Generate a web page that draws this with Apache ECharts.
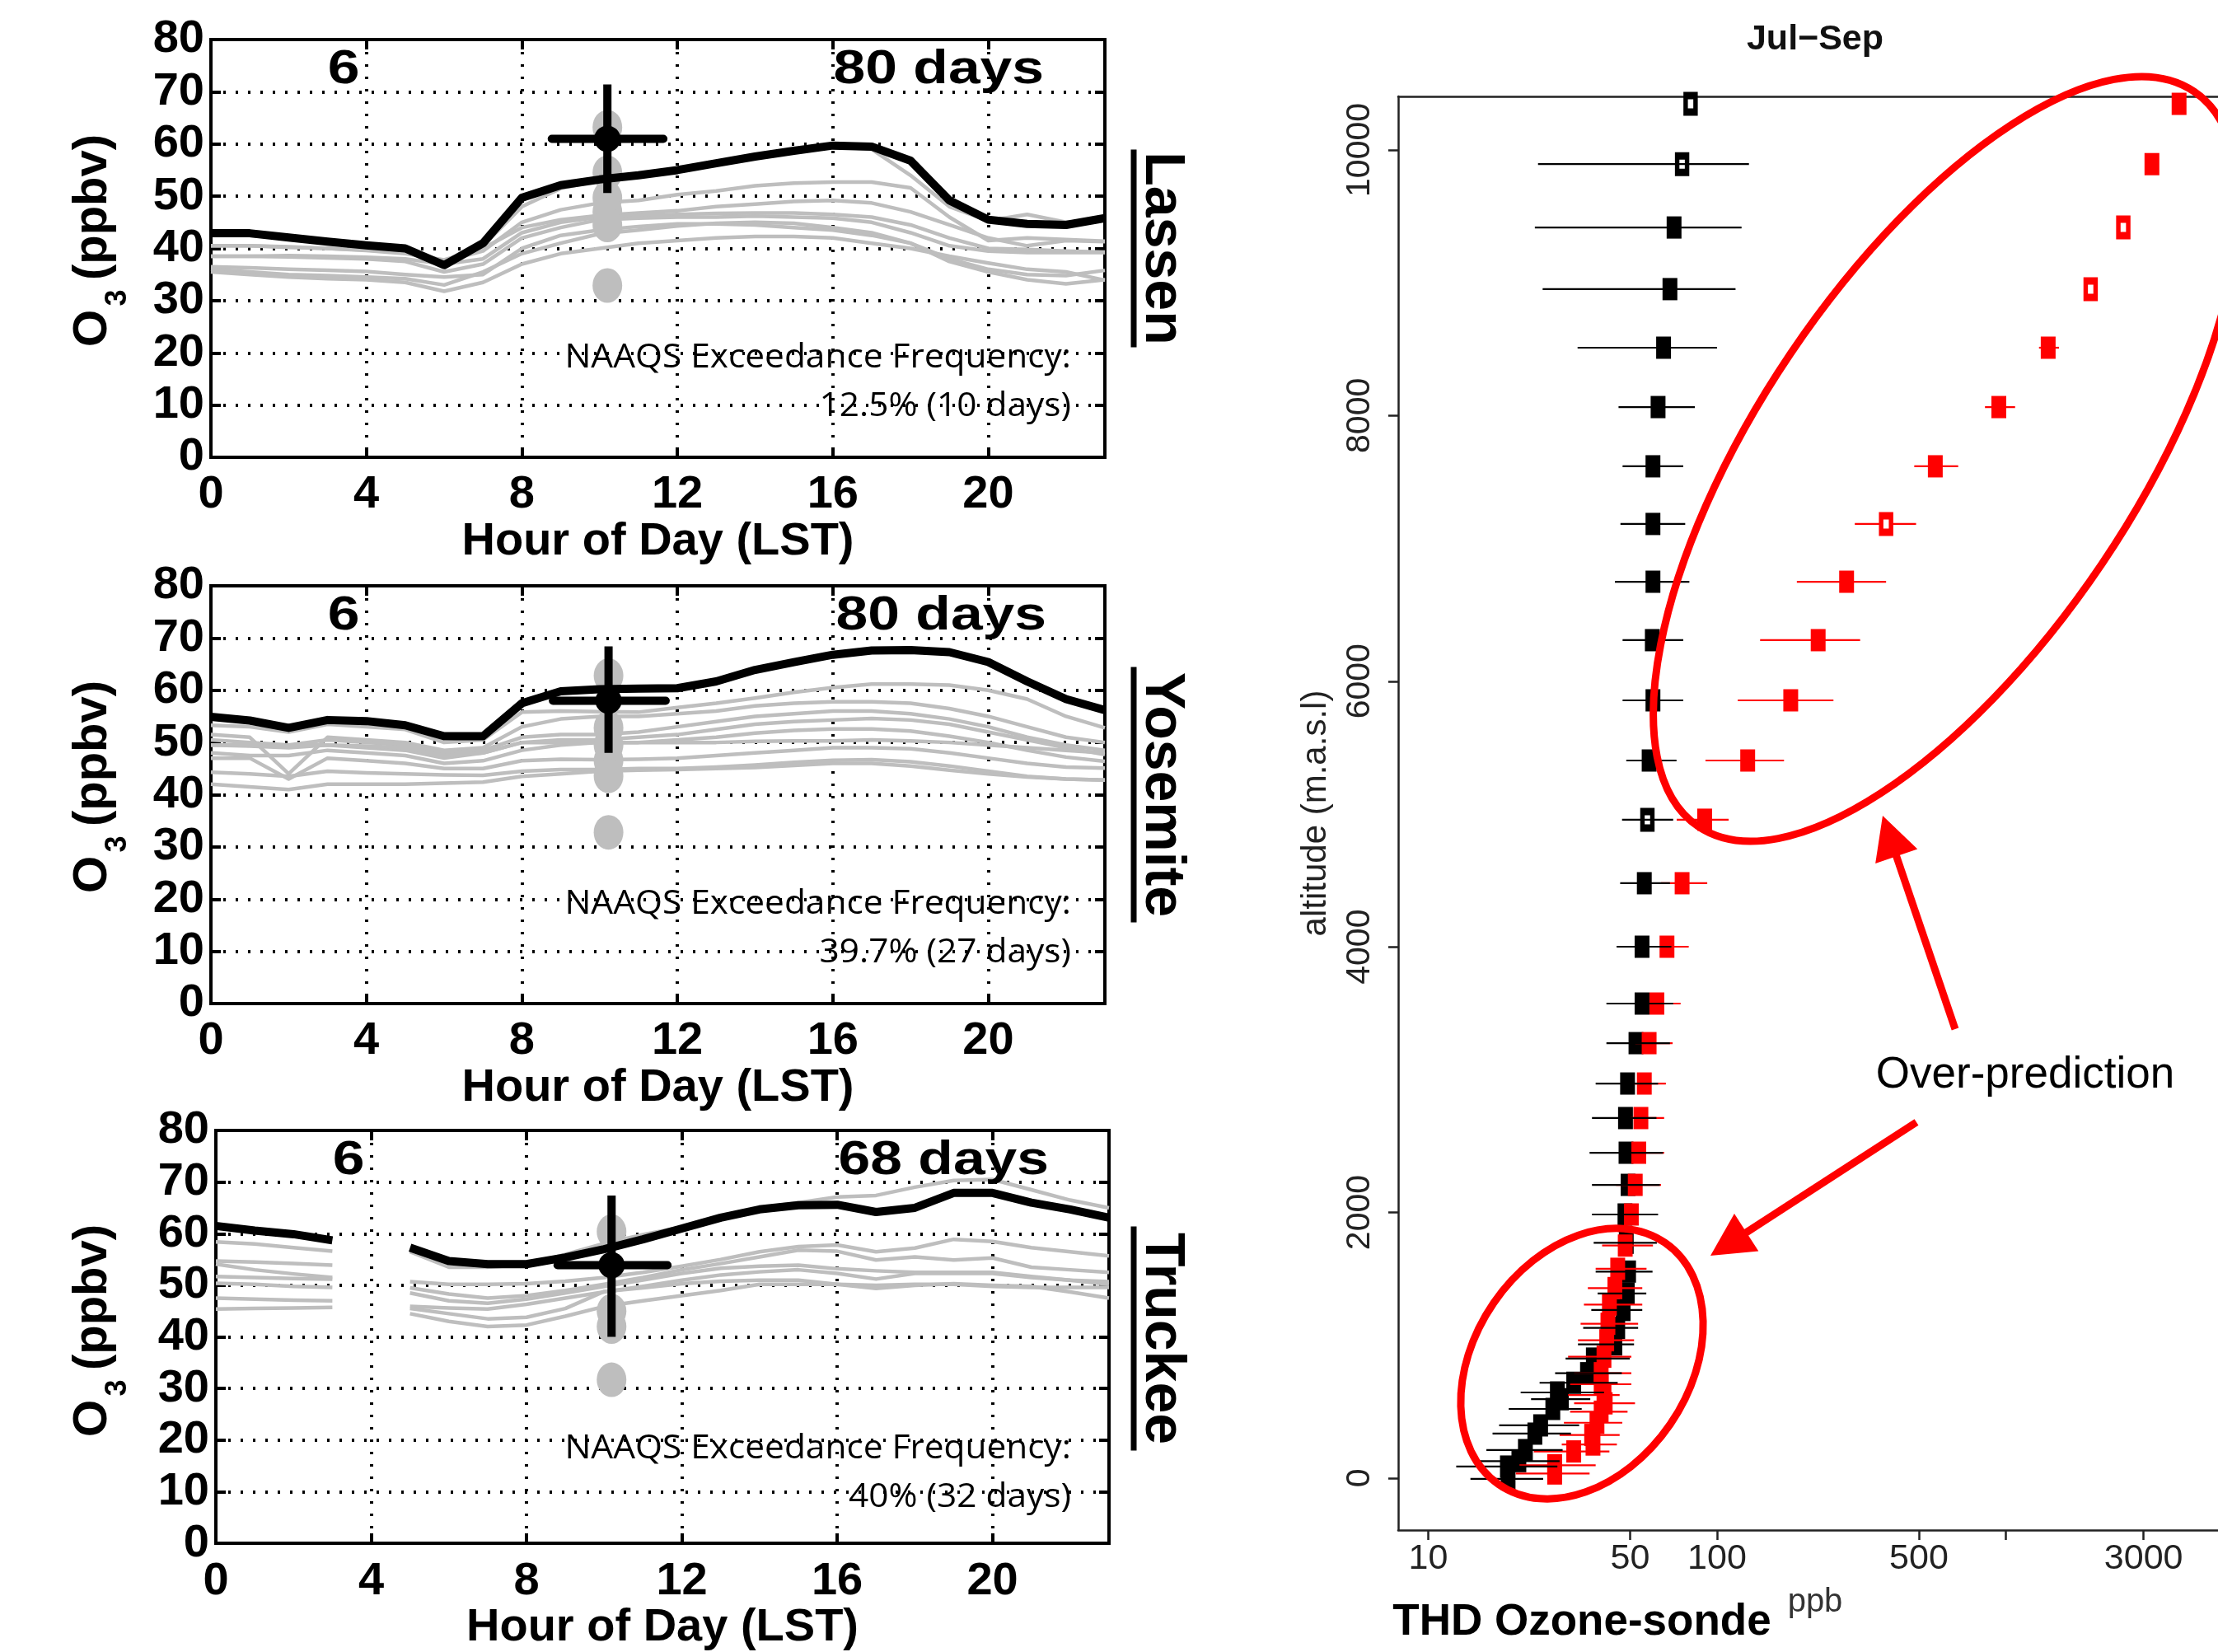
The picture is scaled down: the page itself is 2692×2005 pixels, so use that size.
<!DOCTYPE html>
<html><head><meta charset="utf-8">
<script src="https://cdn.jsdelivr.net/npm/echarts@6/dist/echarts.min.js"></script>
<style>html,body{margin:0;padding:0;background:#fff}#c{width:2692px;height:2005px}</style>
</head><body><div id="c"></div>
<script>
// ---------------- DATA ----------------
const hours = [0,1,2,3,4,5,6,7,8,9,10,11,12,13,14,15,16,17,18,19,20,21,22,23];

// Lassen
const lassenObs = [42.9,42.9,42.1,41.3,40.6,40.0,36.8,41.0,49.7,52.1,53.2,54.0,55.0,56.3,57.6,58.7,59.7,59.5,56.8,49.2,45.5,44.7,44.5,45.8];
const lassenGray = [
  [42.5,42.5,42,41.3,40.6,40,37,40.5,48,51.5,53,53.8,54.8,56,57.3,58.5,59.5,59,54,48,45.3,46.5,45,45.5],
  [40.5,40.5,40.3,40,39.7,39.2,37.5,39.5,45,47.4,48.7,49.2,50.3,51,52,52.5,52.7,52.7,51.6,46,41.5,42,41.7,41.4],
  [40.5,40.5,40.2,40,39.6,39,37.8,40,44,45.5,46.3,46.8,47.2,48,48.5,49,49.2,48.7,47,44.5,42,40.5,41.5,41.3],
  [38.5,38.5,38.6,38.5,38.3,38,37,38,43,45,46,46.3,46.5,46.7,46.8,46.8,46.5,46,44.5,42,40,39.8,39.5,39.3],
  [38.5,38.5,38.4,38.2,38,37.5,35.5,37,42,44,45.5,45.8,46,46,46.2,46,45.8,45,43,40.5,39.5,39.2,39.2,39.2],
  [36.5,36.3,36,35.8,35.6,35,34.5,35,40,42.5,43.5,44.2,44.7,44.7,44.5,44,43.5,42.5,41,38,36,35,34.8,35.8],
  [36,35.5,35,34.8,34.5,34.2,33,35.5,39,41,42.8,43.5,44.3,44.8,45,44.8,44,43,41,37.5,35.5,34,33.2,34],
  [35.5,35,34.5,34.2,34,33.5,31.8,33.5,37,39,40,41,41.5,42,42.3,42.3,42,41,40,38.5,37.2,36,35.5,33.9]
];
const lassenBlobs = [63.2,54.5,49.7,47.0,44.5,32.9];
const lassenCross = [10.2, 61.0, 8.77, 11.64, 50.6, 71.4]; // hour, value, hourLo, hourHi, valueLo, valueHi

// Yosemite
const yosemiteObs = [54.9,54.2,52.8,54.3,54.1,53.3,51.2,51.2,57.5,59.8,60.2,60.3,60.4,61.7,63.9,65.4,66.8,67.6,67.7,67.3,65.4,61.7,58.3,56.2];
const yosemiteGray = [
  [53.3,53,52,53.5,53,52.5,50,50.5,55.8,56,55.9,55.8,56.7,57.5,58.5,59.6,60.5,61.2,61.2,61,60,58.3,55,52.8],
  [51.5,51,44,51,50.5,50,48.5,49,53,54.5,55,55,55.5,56,57,57.5,57.8,57.8,57.5,56.5,55,53,51,50],
  [50.5,50,49.5,50.5,50,49.5,48,48.5,51,51.5,51.5,52,53,54,55,55.5,56,56,55.5,54.5,53,51,49.5,48.5],
  [49.5,49.3,49,49.5,49,48.5,47,48,50,50.5,50.5,51,51.5,52.5,53.5,54,54.3,54.6,54.3,53.5,52,50.5,49,47.7],
  [48,47.5,47.5,48.5,48,47.5,46,46.5,48.5,49.5,50,50,50.5,51,51.8,52.3,52.6,52.6,52.2,51.2,50,48.5,47.2,46.4],
  [49.5,49.5,49.5,49.5,49.3,49,47.5,48,50,50,50,50,50,50,50.2,50.3,50.3,50.5,50.3,50,49.5,49,48.5,48],
  [47,47,43,47,46.5,46,45,45,46.5,46.8,46.7,46.8,47,47.5,48,48.5,49,49,48.8,48,47,46,45.3,45.1],
  [44.3,44,43.5,44.5,44.2,44,43.8,43.7,44.5,44.8,44.8,45,45,45.3,45.7,46.2,46.6,46.7,46.3,45.5,44.5,43.5,43,42.8],
  [42,41.5,41,42,42,42,42.2,42.4,43.5,44,44.5,44.7,44.8,45,45.2,45.6,46,46,45.5,44.7,44,43.4,43,42.8]
];
const yosemiteBlobs = [62.8,52.8,49.5,46.5,43.6,32.8];
const yosemiteCross = [10.23, 58.0, 8.8, 11.7, 48.0, 68.4];

// Truckee (hour 4 missing)
const truckeeObs = [61.5,60.6,59.9,58.7,null,57.3,54.7,54.1,54.1,55.4,57.0,58.9,61.0,63.1,64.7,65.5,65.6,64.2,65.0,67.9,67.9,66.0,64.7,63.1];
const truckeeGray = [
  [58.4,58,57.3,56.6,null,56.5,53.5,53.5,54,56,58.1,59.8,61.3,63,65,66,67.1,67.4,69,70.3,70.5,68.5,66.5,65],
  [54.7,54.5,54.2,53.9,null,50.7,50.2,50.2,50.3,50.8,51.5,52.5,53.7,55,56.5,57.5,57.8,56.5,57.2,58.9,58.5,57.3,56.5,55.7],
  [54.1,53,52.2,51.5,null,49.5,48.3,47.5,48,49,50.2,51.5,53,54.2,55.5,56.8,56.6,54.9,55.5,54.9,55.3,53.5,53,52.5],
  [51.7,51.5,51.3,51.2,null,48.5,47,46.5,47.3,48.5,49.8,51,52.3,53.3,53.7,53.9,53.2,52.8,52.5,52.5,52.5,51.7,51,50.2],
  [50.4,50.2,49.8,49.6,null,45.9,45.6,45.4,46.3,47.5,48.7,49.8,51,52,52.6,53,52.3,51.2,52.3,52.3,52.3,51.5,51,50.7],
  [47.5,47.3,47.1,47,null,45.5,44.5,43.5,43.8,45.5,48.8,49.5,50.3,50.8,51,51,50.2,49.4,50,50.3,50,49.8,48.7,47.5],
  [45.4,45.5,45.6,45.7,null,44.5,43,42,42.3,44,45.9,47,48,49,50.2,50.2,50.2,50,50.2,50.2,49.8,49.6,49.6,49.6]
];
const truckeeBlobs = [60.4,45.0,42.0,31.7];
const truckeeCross = [10.19, 53.9, 8.8, 11.63, 40.0, 67.4];

const siteNames = ['Lassen','Yosemite','Truckee'];
const dayCounts = ['80 days','80 days','68 days'];
const naaqsLines = ['12.5% (10 days)','39.7% (27 days)','40% (32 days)'];

// THD ozone-sonde, Jul-Sep (altitude m, ozone ppb)
const obsAlt = [10347,9893,9416,8952,8511,8064,7618,7184,6749,6309,5856,5403,4957,4479,4001,3573,3275,2971,2711,2450,2208,1985,1772,1555,1390,1266,1131,1007,900,790,718,645,594,521,397,335,211,128,87,-5];
const obsVal = [81,75.7,71,68.7,65.3,62.5,60,60,60,59.7,60,58.2,57.4,56,55,55,52.4,49,48.2,48.4,49.2,48,48.5,49.4,48.9,47.3,45.3,44.3,37.3,35.6,31.9,28,28.9,27,24.5,23.4,21.7,20.6,18.8,18.9];
const obsLo = [null,24,23.4,24.9,32.9,45.6,47.1,46.3,44.3,47.1,47.1,48.5,46.9,46.2,44.9,41.4,41.4,38,36.9,36.2,36.9,36.9,37.4,38,38.6,36.7,34.4,33,29.9,27.5,24.3,20.9,22.7,19,17.6,16.7,15.9,15,12.5,14];
const obsHi = [null,129,121.6,115.9,100,83.8,76.4,77.6,80.2,76.4,76.4,72.4,70.5,68.7,69.5,70.5,68.7,62.5,61.7,65,63.4,62.5,61.9,59.8,56.9,55.1,53.3,51.6,49.9,46.8,45.3,40.6,36.4,34,33.3,31.2,29.2,28.5,28,25];
const obsOpen = [0,1,12];

const modAlt = [10347,9893,9416,8952,8511,8064,7618,7184,6749,6309,5856,5403,4957,4479,4001,3573,3275,2971,2711,2450,2208,1985,1751,1576,1431,1307,1162,1038,914,790,707,625,563,500,417,325,253,201,97,35];
const modVal = [3981,3206,2552,1967,1402,946,570,385,281,224,180,127.7,90.6,75.7,67.1,61.9,58.2,56,54.5,53.6,52.1,50.5,48.1,45.3,44.3,42.4,41.9,41.5,40.6,39.7,39.7,40.6,41,39.7,38.4,36.8,37.2,31.9,27.4,27.4];
const modLo = [null,null,null,null,1303,847,482,300,189,141,118,91.2,72.5,64,58.2,52.9,52.1,51.6,50.3,50.3,44.7,42.4,40,38,35.7,34.6,33.7,33,30.5,32,31,30.5,32,31,29.5,28.5,29,23.2,20.7,20.1];
const modHi = [null,null,null,null,1528,1077,684,489,385,313,253,170.6,109.7,92.5,79.8,74.8,70.2,66.5,65.6,65.6,64,59.6,60,57,55.1,55.1,53.3,51.6,50.5,50.5,50.5,46,52,49,47,46,45,42.4,38,36.2];
const modOpen = [2,3,7];

const sondeXTicks = [10,50,100,500,1000,3000];
const sondeXLabels = [10,50,100,500,3000];
const sondeYTicks = [0,2000,4000,6000,8000,10000];

// ---------------- CHART ----------------
const FONT = 'Liberation Sans';
const panels = [
  {left:256, top:48,   width:1085, height:507, obs:lassenObs,   gray:lassenGray,   blobs:lassenBlobs,   cross:lassenCross},
  {left:256, top:711,  width:1085, height:507, obs:yosemiteObs, gray:yosemiteGray, blobs:yosemiteBlobs, cross:yosemiteCross},
  {left:262, top:1372, width:1084, height:505, obs:truckeeObs,  gray:truckeeGray,  blobs:truckeeBlobs,  cross:truckeeCross}
];
const grids = [], xAxes = [], yAxes = [], series = [], graphics = [];
const dotted = {type:[3,12], width:4, color:'#000'};

panels.forEach((P, p) => {
  grids.push({left:P.left, top:P.top, width:P.width, height:P.height, show:true, borderColor:'#000', borderWidth:4, backgroundColor:'transparent'});
  const xi = xAxes.length, yi = yAxes.length;
  xAxes.push({gridIndex:p, type:'value', min:0, max:23, interval:4, position:'bottom',
    axisLine:{show:false, onZero:false}, axisTick:{show:true, inside:true, length:12, lineStyle:{width:4,color:'#000'}},
    axisLabel:{fontSize:56, fontWeight:'bold', color:'#000', fontFamily:FONT, margin:18, showMaxLabel:false, showMinLabel:true},
    splitLine:{show:true, lineStyle:dotted},
    name:'Hour of Day (LST)', nameLocation:'middle', nameGap:74,
    nameTextStyle:{fontSize:56, fontWeight:'bold', color:'#000', fontFamily:FONT}});
  xAxes.push({gridIndex:p, type:'value', min:0, max:23, interval:4, position:'top',
    axisLine:{show:false, onZero:false}, axisTick:{show:true, inside:true, length:12, lineStyle:{width:4,color:'#000'}},
    axisLabel:{show:false}, splitLine:{show:false}});
  yAxes.push({gridIndex:p, type:'value', min:0, max:80, interval:10, position:'left',
    axisLine:{show:false, onZero:false}, axisTick:{show:true, inside:true, length:12, lineStyle:{width:4,color:'#000'}},
    axisLabel:{fontSize:56, fontWeight:'bold', color:'#000', fontFamily:FONT, margin:8},
    splitLine:{show:true, lineStyle:dotted}});
  yAxes.push({gridIndex:p, type:'value', min:0, max:80, interval:10, position:'right',
    axisLine:{show:false, onZero:false}, axisTick:{show:true, inside:true, length:12, lineStyle:{width:4,color:'#000'}},
    axisLabel:{show:false}, splitLine:{show:false}});

  P.gray.forEach(g => series.push({type:'line', xAxisIndex:xi, yAxisIndex:yi, silent:true, symbol:'none', z:2,
    connectNulls:false, data: hours.map((h,i)=>[h, g[i]]),
    lineStyle:{color:'#bebebe', width:4.5, join:'round'}}));
  series.push({type:'scatter', xAxisIndex:xi, yAxisIndex:yi, silent:true, z:3, symbol:'circle', symbolSize:[36,42],
    itemStyle:{color:'#bebebe', opacity:1}, data: P.blobs.map(v=>[P.cross[0], v])});
  series.push({type:'line', xAxisIndex:xi, yAxisIndex:yi, silent:true, symbol:'none', z:4, connectNulls:false,
    data: hours.map((h,i)=>[h, P.obs[i]]), lineStyle:{color:'#000', width:10, join:'round'}});
  const c = P.cross;
  series.push({type:'line', xAxisIndex:xi, yAxisIndex:yi, silent:true, symbol:'none', z:5,
    data:[[c[0], c[4]],[c[0], c[5]]], lineStyle:{color:'#000', width:10, cap:'butt'}});
  series.push({type:'line', xAxisIndex:xi, yAxisIndex:yi, silent:true, symbol:'none', z:5,
    data:[[c[2], c[1]],[c[3], c[1]]], lineStyle:{color:'#000', width:10, cap:'round'}});
  series.push({type:'scatter', xAxisIndex:xi, yAxisIndex:yi, silent:true, z:6, symbol:'circle', symbolSize:32,
    itemStyle:{color:'#000', opacity:1}, data:[[c[0], c[1]]]});

  // texts
  const top = P.top, cy = P.top + P.height/2;
  const t = (o) => graphics.push(Object.assign({type:'text', z:50, silent:true}, o));
  t({x:P.left+161, y:top+37, scaleX:1.2, style:{text:'6', fontSize:58, fontWeight:'bold', fontFamily:FONT, fill:'#000', align:'center', verticalAlign:'middle', textAlign:'center', textVerticalAlign:'middle'}});
  t({x:1267+ (p===2?6:(p===1?3:0)), y:top+37, scaleX:1.2, style:{text:dayCounts[p], fontSize:58, fontWeight:'bold', fontFamily:FONT, fill:'#000', align:'right', verticalAlign:'middle', textAlign:'right', textVerticalAlign:'middle'}});
  t({x:1300, y:top+387, scaleX:1.06, style:{text:'NAAQS Exceedance Frequency:', fontSize:40, fontFamily:'Open Sans', fill:'#000', align:'right', verticalAlign:'middle', textAlign:'right', textVerticalAlign:'middle'}});
  t({x:1300, y:top+446, scaleX:1.06, style:{text:naaqsLines[p], fontSize:40, fontFamily:'Open Sans', fill:'#000', align:'right', verticalAlign:'middle', textAlign:'right', textVerticalAlign:'middle'}});
  t({x:1410, y:cy, rotation:-Math.PI/2, style:{text:siteNames[p], fontSize:68, fontWeight:'bold', fontFamily:FONT, fill:'#000', align:'center', verticalAlign:'middle', textAlign:'center', textVerticalAlign:'middle'}});
  const ul = [240,310,272][p];
  graphics.push({type:'line', z:50, silent:true, shape:{x1:1376, y1:cy-ul/2, x2:1376, y2:cy+ul/2}, style:{stroke:'#000', lineWidth:7}});
  // y-axis title  O3 (ppbv)
  t({x:113, y:cy-50, rotation:Math.PI/2, style:{text:'(ppbv)', fontSize:58, fontWeight:'bold', fontFamily:FONT, fill:'#000', align:'center', verticalAlign:'middle', textAlign:'center', textVerticalAlign:'middle'}});
  t({x:113, y:cy+97, rotation:Math.PI/2, style:{text:'O', fontSize:58, fontWeight:'bold', fontFamily:FONT, fill:'#000', align:'center', verticalAlign:'middle', textAlign:'center', textVerticalAlign:'middle'}});
  t({x:143, y:cy+60, rotation:Math.PI/2, style:{text:'3', fontSize:36, fontWeight:'bold', fontFamily:FONT, fill:'#000', align:'center', verticalAlign:'middle', textAlign:'center', textVerticalAlign:'middle'}});
});

// ---- right panel: ozone-sonde (plot box runs past the right edge of the page) ----
grids.push({left:1697, top:117, width:995, height:1740, show:false});
const SX = xAxes.length, SY = yAxes.length;
const boxLine = {show:true, onZero:false, lineStyle:{color:'#222', width:2.5}};
xAxes.push({gridIndex:3, type:'log', logBase:10, min:7.87, max:5430, position:'bottom',
  axisLine:boxLine,
  axisTick:{show:true, inside:false, length:12, customValues:sondeXTicks, lineStyle:{width:2.5,color:'#222'}},
  minorTick:{show:false},
  axisLabel:{show:true, customValues:sondeXLabels, fontSize:43, color:'#222', fontFamily:FONT, margin:14, formatter:(v)=>String(Math.round(v))},
  splitLine:{show:false}});
yAxes.push({gridIndex:3, type:'value', min:-391, max:10403, position:'left',
  axisLine:boxLine,
  axisTick:{show:true, inside:false, length:12, customValues:sondeYTicks, lineStyle:{width:2.5,color:'#222'}},
  axisLabel:{show:true, customValues:sondeYTicks, rotate:90, fontSize:41, color:'#222', fontFamily:FONT, margin:26, formatter:(v)=>String(Math.round(v))},
  splitLine:{show:false}});
xAxes.push({gridIndex:3, type:'value', min:0, max:1, position:'top',
  axisLine:boxLine, axisTick:{show:false}, axisLabel:{show:false}, splitLine:{show:false}});

function errBars(alt, lo, hi, color, z) {
  const d = [];
  alt.forEach((a,i)=>{ if (lo[i]!=null && hi[i]!=null) d.push([lo[i], hi[i], a]); });
  return {type:'custom', xAxisIndex:SX, yAxisIndex:SY, z, silent:true, data:d,
    encode:{x:[0,1], y:2},
    renderItem(params, api){
      const p1 = api.coord([api.value(0), api.value(2)]);
      const p2 = api.coord([api.value(1), api.value(2)]);
      return {type:'line', shape:{x1:p1[0], y1:p1[1], x2:p2[0], y2:p2[1]}, style:{stroke:color, lineWidth:2.2}};
    }};
}
function markers(alt, val, open, color, z) {
  return {type:'scatter', xAxisIndex:SX, yAxisIndex:SY, z, silent:true, symbol:'rect',
    data: alt.map((a,i)=> open.indexOf(i)>=0
      ? {value:[val[i], a], symbolSize:[12,20], itemStyle:{color:'#fff', borderColor:color, borderWidth:7, opacity:1}}
      : {value:[val[i], a], symbolSize:[18,27], itemStyle:{color:color, opacity:1}})};
}
series.push(markers(obsAlt, obsVal, obsOpen, '#000', 10));
series.push(errBars(modAlt, modLo, modHi, '#ff0000', 11));
series.push(markers(modAlt, modVal, modOpen, '#ff0000', 12));
series.push(errBars(obsAlt, obsLo, obsHi, '#000', 13));

// right panel texts & annotations
const tt = (o) => graphics.push(Object.assign({type:'text', z:60, silent:true}, o));
const ctr = {align:'center', verticalAlign:'middle', textAlign:'center', textVerticalAlign:'middle'};
tt({x:2203, y:48, style:Object.assign({text:'Jul\u2212Sep', fontSize:43, fontWeight:'bold', fontFamily:FONT, fill:'#111'}, ctr)});
tt({x:1597, y:987, rotation:Math.PI/2, style:Object.assign({text:'altitude (m.a.s.l)', fontSize:42, fontFamily:FONT, fill:'#222'}, ctr)});
tt({x:2203, y:1945, style:Object.assign({text:'ppb', fontSize:40, fontFamily:FONT, fill:'#333'}, ctr)});
tt({x:1920, y:1969, style:Object.assign({text:'THD Ozone-sonde', fontSize:53, fontWeight:'bold', fontFamily:FONT, fill:'#000'}, ctr)});
tt({x:2458, y:1305, style:Object.assign({text:'Over-prediction', fontSize:53, fontFamily:FONT, fill:'#000'}, ctr)});

graphics.push({type:'ellipse', z:70, silent:true, x:2362, y:557, rotation:56*Math.PI/180,
  shape:{cx:0, cy:0, rx:538, ry:228}, style:{fill:null, stroke:'#ff0000', lineWidth:9}});
graphics.push({type:'ellipse', z:70, silent:true, x:1920, y:1655, rotation:55.5*Math.PI/180,
  shape:{cx:0, cy:0, rx:178, ry:130}, style:{fill:null, stroke:'#ff0000', lineWidth:9}});

function arrow(x1, y1, x2, y2) {
  const dx = x2-x1, dy = y2-y1, L = Math.hypot(dx,dy), ux = dx/L, uy = dy/L;
  const hl = 52, hw = 27;
  const bx = x2 - ux*hl, by = y2 - uy*hl;
  graphics.push({type:'line', z:70, silent:true, shape:{x1, y1, x2:bx+ux*4, y2:by+uy*4}, style:{stroke:'#ff0000', lineWidth:9}});
  graphics.push({type:'polygon', z:71, silent:true, shape:{points:[[x2,y2],[bx - uy*hw, by + ux*hw],[bx + uy*hw, by - ux*hw]]}, style:{fill:'#ff0000'}});
}
arrow(2373, 1249, 2285, 990);
arrow(2326, 1362, 2076, 1524);

const chart = echarts.init(document.getElementById('c'), null, {renderer:'canvas'});
chart.setOption({
  animation:false,
  backgroundColor:'#fff',
  textStyle:{fontFamily:FONT},
  grid:grids, xAxis:xAxes, yAxis:yAxes, series, graphic:graphics
});
</script>
</body></html>
